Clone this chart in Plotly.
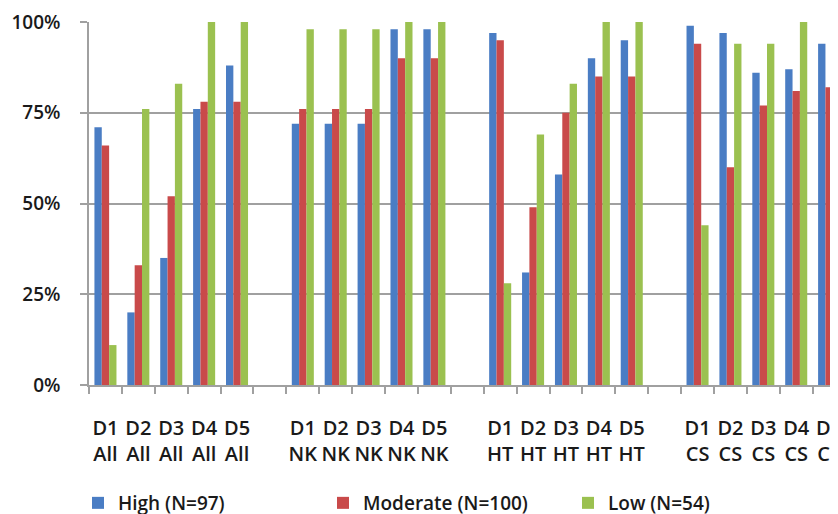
import plotly.graph_objects as go

categories = ["D1<br>All", "D2<br>All", "D3<br>All", "D4<br>All", "D5<br>All", " ",
              "D1<br>NK", "D2<br>NK", "D3<br>NK", "D4<br>NK", "D5<br>NK", "  ",
              "D1<br>HT", "D2<br>HT", "D3<br>HT", "D4<br>HT", "D5<br>HT", "   ",
              "D1<br>CS", "D2<br>CS", "D3<br>CS", "D4<br>CS", "D5<br>CS"]

high = [0.71, 0.20, 0.35, 0.76, 0.88, None,
        0.72, 0.72, 0.72, 0.98, 0.98, None,
        0.97, 0.31, 0.58, 0.90, 0.95, None,
        0.99, 0.97, 0.86, 0.87, 0.94]
moderate = [0.66, 0.33, 0.52, 0.78, 0.78, None,
            0.76, 0.76, 0.76, 0.90, 0.90, None,
            0.95, 0.49, 0.75, 0.85, 0.85, None,
            0.94, 0.60, 0.77, 0.81, 0.82]
low = [0.11, 0.76, 0.83, 1.00, 1.00, None,
       0.98, 0.98, 0.98, 1.00, 1.00, None,
       0.28, 0.69, 0.83, 1.00, 1.00, None,
       0.44, 0.94, 0.94, 1.00, 1.00]

series_names = ["High (N=97)", "Moderate (N=100)", "Low (N=54)"]
colors = ["#4a7dc4", "#c94a4a", "#9bc150"]

# page has an 8px body margin; figure is sized so the plot lands where the reference has it
OFF = 8
W, H = 838 - OFF, 514 - OFF
PLOT_L, PLOT_T, PLOT_B = 89, 22, 385          # page pixels
L, T = PLOT_L - OFF, PLOT_T - OFF
B = H - (PLOT_B - OFF)
plot_w = W - L
plot_h = H - T - B

def px_x(px):
    return (px - PLOT_L) / plot_w

def px_y(py):
    return (PLOT_B - py) / plot_h

FONT = "Open Sans"
TXT = "#1a1a1a"
fig = go.Figure()
for name, vals, col in zip(series_names, [high, moderate, low], colors):
    fig.add_trace(go.Bar(x=categories, y=vals, name=name, marker_color=col,
                         marker_line_width=0))

fig.update_layout(
    width=W, height=H,
    margin=dict(l=L, r=0, t=T, b=B, autoexpand=False),
    plot_bgcolor="white", paper_bgcolor="white",
    barmode="group", bargap=0.33, bargroupgap=0,
    font=dict(family=FONT, size=19, color=TXT),
    legend=dict(orientation="h", bgcolor="rgba(0,0,0,0)", borderwidth=0,
                font=dict(family=FONT, size=19, color=TXT, weight=600),
                x=px_x(78), y=px_y(503), xanchor="left", yanchor="middle",
                itemwidth=30, entrywidthmode="pixels", entrywidth=200),
    xaxis=dict(type="category", categoryorder="array", categoryarray=categories,
               range=[-0.5, 22.27], tickson="boundaries", ticks="outside",
               ticklen=7, tickcolor="#a0a0a0", tickwidth=1.5,
               showline=True, linecolor="#a0a0a0", linewidth=1.5,
               showgrid=False, tickangle=0, ticklabelstandoff=24, automargin=False,
               tickfont=dict(family=FONT, size=20, color=TXT, weight=600)),
    yaxis=dict(range=[0, 1], tickvals=[0, 0.25, 0.5, 0.75, 1.0], tickformat=".0%",
               ticks="outside", ticklen=7, tickcolor="#a0a0a0", tickwidth=1.5,
               showline=True, linecolor="#a0a0a0", linewidth=1.5,
               showgrid=True, gridcolor="#a0a0a0", gridwidth=1.5,
               zeroline=False, ticklabelstandoff=16, automargin=False,
               tickfont=dict(family=FONT, size=19, color=TXT, weight=600)),
)

fig.write_html("out.html")
